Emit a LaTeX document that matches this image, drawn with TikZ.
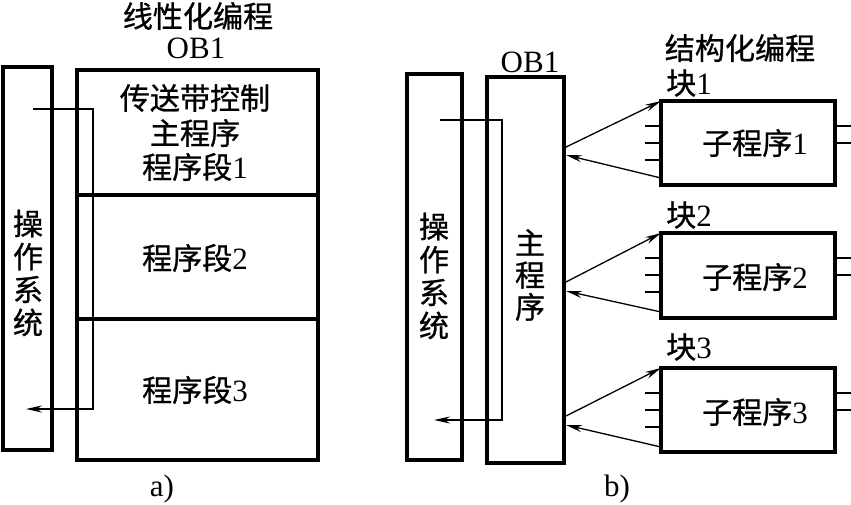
\documentclass[tikz,border=0pt]{standalone}
\usepackage{fontspec}
\setmainfont{Liberation Serif}
\newfontfamily\cjk[Scale=0.97,FakeBold=0.8]{Noto Sans CJK SC}
\usetikzlibrary{arrows.meta}
\begin{document}
\begin{tikzpicture}[x=1pt,y=-1pt,
  box/.style={draw,line width=3.2pt,inner sep=0pt,outer sep=0pt},
  lbl/.style={inner sep=0pt,font=\fontsize{31}{33}\selectfont,align=center},
  link/.style={line width=1.3pt},
  arr/.style={line width=1.3pt,-{Stealth[length=16pt,width=7pt]}},
  tick/.style={line width=1.3pt}]
\useasboundingbox (0,0) rectangle (851,504);
% ---------- a) ----------
\node[box,minimum width=49pt,minimum height=383pt] (osa) at (27.5,258.5) {};
\node[box,minimum width=241pt,minimum height=125pt] (seg1) at (197.5,132.5) {};
\node[box,minimum width=241pt,minimum height=124pt] (seg2) at (197.5,257) {};
\node[box,minimum width=241pt,minimum height=141pt] (seg3) at (197.5,389.5) {};
\node[lbl] (ta) at (198,16) {\cjk 线性化编程};
\node[lbl] (oba) at (196,48) {OB1};
\node[lbl] (t1) at (195,98) {\cjk 传送带控制};
\node[lbl] (t2) at (195,133) {\cjk 主程序};
\node[lbl] (t3) at (195,167) {{\cjk 程序段}1};
\node[lbl] (t4) at (195,258) {{\cjk 程序段}2};
\node[lbl] (t5) at (195,390) {{\cjk 程序段}3};
\node[lbl,text width=34pt] (osat) at (28,273) {\cjk 操\\作\\系\\统};
\node[lbl] (capa) at (162,489) {a)};
\coordinate (a1) at (33,109);
\coordinate (a2) at (93,409);
\coordinate (a3) at (26,409);
\draw[arr] (a1) -| (a2) -- (a3);
% ---------- b) ----------
\node[box,minimum width=55pt,minimum height=386pt] (osb) at (434.5,267) {};
\node[box,minimum width=77pt,minimum height=386pt] (main) at (525.5,270) {};
\node[lbl] (obb) at (530,62) {OB1};
\node[lbl] (tb) at (740,48) {\cjk 结构化编程};
\node[lbl,text width=34pt] (osbt) at (434,276) {\cjk 操\\作\\系\\统};
\node[lbl,text width=34pt] (mt) at (530,275) {\cjk 主\\[-1pt]程\\[-1pt]序};
\node[lbl] (capb) at (617,489) {b)};
\node[box,minimum width=174pt,minimum height=84pt] (b1) at (748,143) {};
\node[box,minimum width=174pt,minimum height=85pt] (b2) at (748,275.5) {};
\node[box,minimum width=174pt,minimum height=84pt] (b3) at (748,410) {};
\node[lbl] (k1) at (689,83) {{\cjk 块}1};
\node[lbl] (k2) at (689,215) {{\cjk 块}2};
\node[lbl] (k3) at (689,347) {{\cjk 块}3};
\node[lbl] (s1) at (755,143) {{\cjk 子程序}1};
\node[lbl] (s2) at (755,277) {{\cjk 子程序}2};
\node[lbl] (s3) at (755,412) {{\cjk 子程序}3};
\coordinate (c1) at (440,120);
\coordinate (c2) at (502,420);
\coordinate (c3) at (434,420);
\draw[arr] (c1) -| (c2) -- (c3);
% arrows main <-> blocks
\coordinate (o1) at (564,148);
\coordinate (r1) at (566,155);
\coordinate (o2) at (564,283);
\coordinate (r2) at (566,291);
\coordinate (o3) at (564,417);
\coordinate (r3) at (566,425);
\draw[arr] (o1) -- (b1.north west);
\draw[arr] (b1.south west) ++(0,-7) coordinate (q1) (q1) -- (r1);
\draw[arr] (o2) -- (b2.north west);
\draw[arr] (b2.south west) ++(0,-6) coordinate (q2) (q2) -- (r2);
\draw[arr] (o3) -- (b3.north west);
\draw[arr] (b3.south west) ++(0,-5) coordinate (q3) (q3) -- (r3);
% ticks
\foreach \b in {b1,b2,b3}{
  \foreach \d in {25,42,59}{
    \draw[tick] ([yshift=-\d pt]\b.north west) -- ++(-16,0);
  }
  \foreach \d in {25,42}{
    \draw[tick] ([yshift=-\d pt]\b.north east) -- ++(16,0);
  }
}
\end{tikzpicture}
\end{document}
